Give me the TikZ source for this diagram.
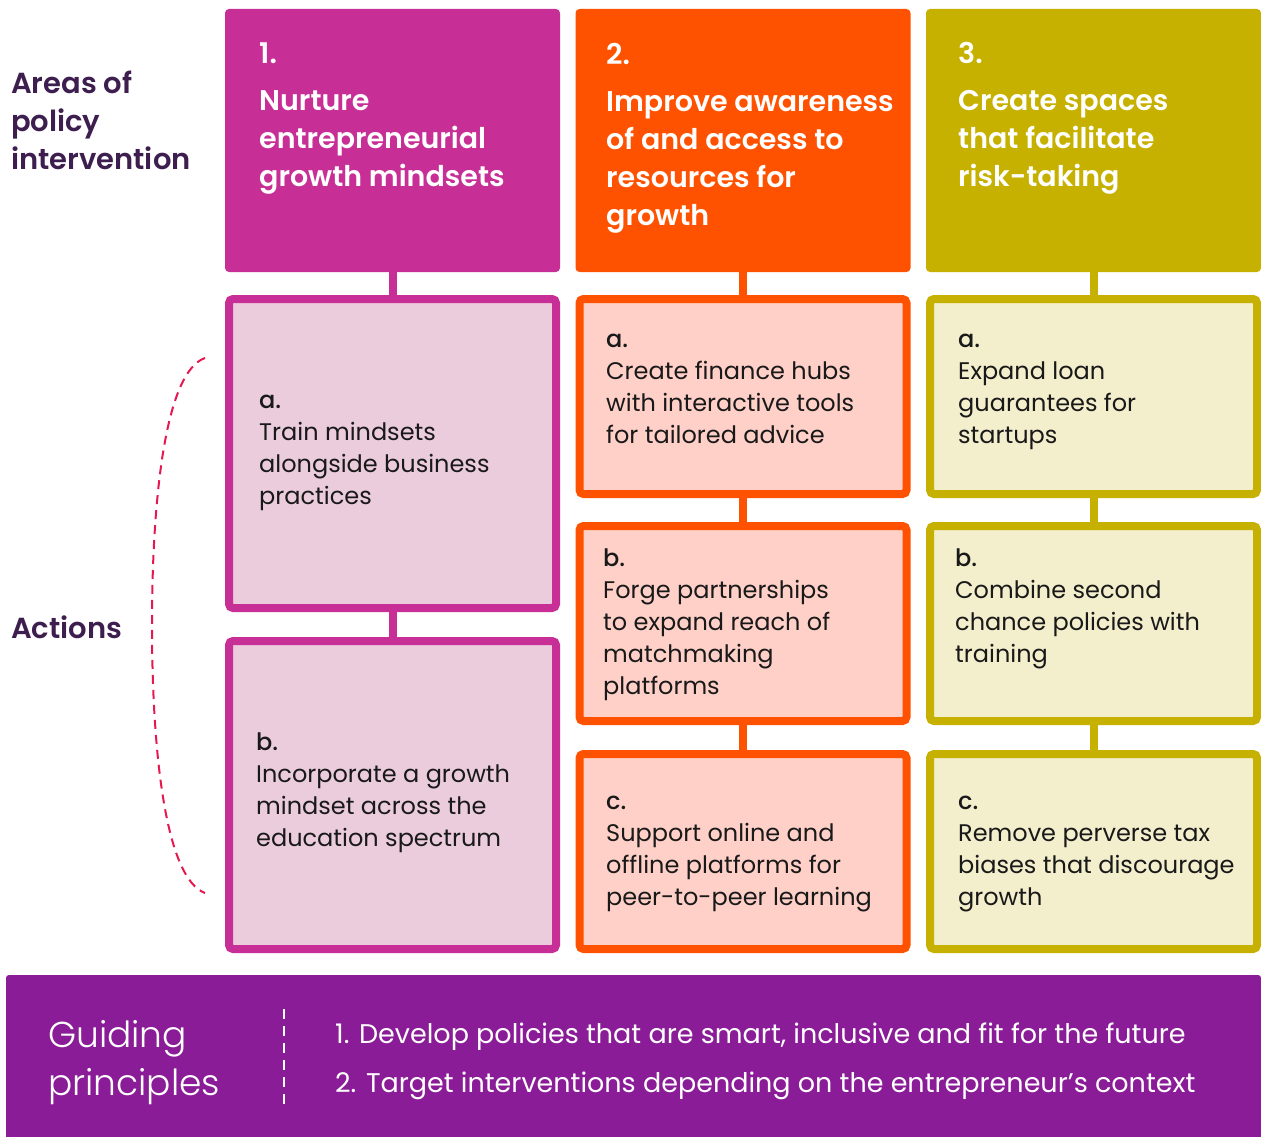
\documentclass[tikz,border=0pt]{standalone}
\usepackage{fontspec}
\setmainfont{Poppins}
\IfFontExistsTF{Poppins Light}{\newfontfamily\lightfont{Poppins Light}}{\newfontfamily\lightfont{Poppins}}
\IfFontExistsTF{Poppins SemiBold}{\newfontfamily\semifont{Poppins SemiBold}}{\newfontfamily\semifont{Poppins}[UprightFeatures={FakeBold=1.5}]}
\IfFontExistsTF{Poppins Medium}{\newfontfamily\medfont{Poppins Medium}}{\newfontfamily\medfont{Poppins}}
\definecolor{magA}{HTML}{C72F97}
\definecolor{magB}{HTML}{EBCCDD}
\definecolor{orgA}{HTML}{FF5200}
\definecolor{orgB}{HTML}{FFD0C8}
\definecolor{olvA}{HTML}{C6B000}
\definecolor{olvB}{HTML}{F3EECC}
\definecolor{band}{HTML}{8A1C97}
\definecolor{labelc}{HTML}{3D1E4E}
\definecolor{bracec}{HTML}{E5194F}
\begin{document}
\begin{tikzpicture}[x=1pt,y=-1pt,
  headbox/.style={fill=#1, draw=none, inner sep=0pt, outer sep=0pt, rounded corners=4pt,
    minimum width=335pt, minimum height=263pt},
  actbox/.style 2 args={draw=#1, fill=#2, line width=8pt, inner sep=0pt, outer sep=0pt,
    rounded corners=4pt, minimum width=327pt},
  link/.style={draw=#1, line width=8pt},
  headtxt/.style={anchor=base west, inner sep=0pt, align=left, text=white,
    font=\fontsize{28.5}{38}\selectfont\semifont},
  acttxt/.style={anchor=base west, inner sep=0pt, align=left, text=black!90,
    font=\fontsize{24}{32}\selectfont},
  sidetxt/.style={anchor=base west, inner sep=0pt, align=left, text=labelc,
    font=\fontsize{29}{38}\selectfont\semifont},
]
\useasboundingbox (0,0) rectangle (1261,1137);

% column headers
\node[headbox=magA] (h1) at (392.5,140.5) {};
\node[headbox=orgA] (h2) at (743,140.5) {};
\node[headbox=olvA] (h3) at (1093.5,140.5) {};

% action boxes
\node[actbox={magA}{magB}, minimum height=309pt] (a1) at (392.5,453.5) {};
\node[actbox={magA}{magB}, minimum height=308pt] (b1) at (392.5,795) {};
\node[actbox={orgA}{orgB}, minimum height=195pt] (a2) at (743,396.5) {};
\node[actbox={orgA}{orgB}, minimum height=195pt] (b2) at (743,623.5) {};
\node[actbox={orgA}{orgB}, minimum height=195pt] (c2) at (743,851.5) {};
\node[actbox={olvA}{olvB}, minimum height=195pt] (a3) at (1093.5,396.5) {};
\node[actbox={olvA}{olvB}, minimum height=195pt] (b3) at (1093.5,623.5) {};
\node[actbox={olvA}{olvB}, minimum height=195pt] (c3) at (1093.5,851.5) {};

% vertical links
\draw[link=magA] (h1.south) -- (a1.north);
\draw[link=magA] (a1.south) -- (b1.north);
\draw[link=orgA] (h2.south) -- (a2.north);
\draw[link=orgA] (a2.south) -- (b2.north);
\draw[link=orgA] (b2.south) -- (c2.north);
\draw[link=olvA] (h3.south) -- (a3.north);
\draw[link=olvA] (a3.south) -- (b3.north);
\draw[link=olvA] (b3.south) -- (c3.north);

% header texts (anchored at the baseline of their last line)
\node[headtxt] (t1) at (259,186) {1.\\[9pt]Nurture\\entrepreneurial\\growth mindsets};
\node[headtxt] (t2) at (606,225) {2.\\[9pt]Improve awareness\\of and access to\\resources for\\growth};
\node[headtxt] (t3) at (958,186) {3.\\[9pt]Create spaces\\that facilitate\\risk-taking};

% action texts
\node[acttxt] (ta1) at (259,504) {{\medfont a.}\\Train mindsets\\alongside business\\practices};
\node[acttxt] (tb1) at (256,846) {{\medfont b.}\\Incorporate a growth\\mindset across the\\education spectrum};
\node[acttxt] (ta2) at (606,443) {{\medfont a.}\\Create finance hubs\\with interactive tools\\for tailored advice};
\node[acttxt] (tb2) at (603,694) {{\medfont b.}\\Forge partnerships\\to expand reach of\\matchmaking\\platforms};
\node[acttxt] (tc2) at (606,905) {{\medfont c.}\\Support online and\\offline platforms for\\peer-to-peer learning};
\node[acttxt] (ta3) at (958,443) {{\medfont a.}\\Expand loan\\guarantees for\\startups};
\node[acttxt] (tb3) at (955,662) {{\medfont b.}\\Combine second\\chance policies with\\training};
\node[acttxt] (tc3) at (958,905) {{\medfont c.}\\Remove perverse tax\\biases that discourage\\growth};

% row labels
\node[sidetxt] (areas) at (11,169) {Areas of\\policy\\intervention};
\node[sidetxt] (actions) at (11,638) {Actions};

% bracket grouping the actions
\coordinate (brtop) at (205,358);
\coordinate (brmid) at (152,625);
\coordinate (brbot) at (205,893);
\draw[bracec, line width=2pt, dash pattern=on 9pt off 6pt]
  (brtop) .. controls (165,372) and (152,500) .. (brmid)
  .. controls (152,750) and (165,878) .. (brbot);

% guiding principles band
\node[fill=band, draw=none, inner sep=0pt, outer sep=0pt, rounded corners=3pt,
  minimum width=1255pt, minimum height=170pt] (band) at (633.5,1060) {};
\node[anchor=base west, inner sep=0pt, align=left, text=white,
  font=\fontsize{36}{48}\selectfont\lightfont] (gp) at (48,1095) {Guiding\\principles};
\coordinate (sepA) at (284,1009);
\coordinate (sepB) at (284,1107);
\draw[white, line width=2.5pt, dash pattern=on 10pt off 7pt] (sepA) -- (sepB);
\node[anchor=base west, inner sep=0pt, align=left, text=white,
  font=\fontsize{27}{49}\selectfont] (pl) at (335,1092)
  {1. Develop policies that are smart, inclusive and fit for the future\\
   2. Target interventions depending on the entrepreneur's context};
\end{tikzpicture}
\end{document}
